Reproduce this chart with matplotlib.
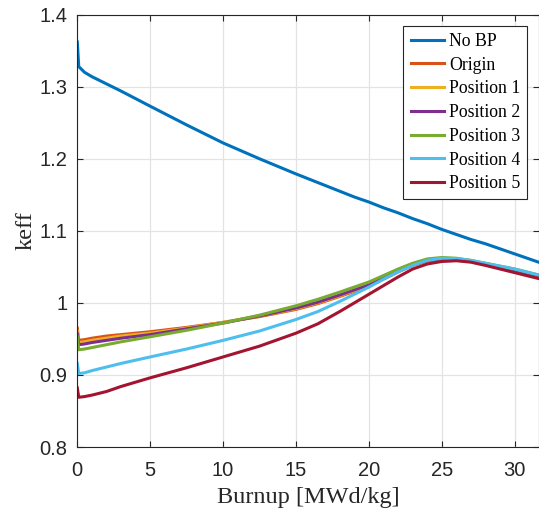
import numpy as np
import matplotlib
matplotlib.use("Agg")
import matplotlib.pyplot as plt
from matplotlib.ticker import FuncFormatter

# burnup points (MWd/kg)
burnup = [0, 0.1, 0.5, 1, 2, 3, 5, 7.5, 10, 12.5, 15, 16.5, 18, 19, 20, 21,
          22, 23, 24, 25, 26, 27, 28, 30, 32]

no_bp = [1.362, 1.328, 1.320, 1.314, 1.304, 1.294, 1.273, 1.247, 1.222, 1.200,
         1.179, 1.167, 1.155, 1.147, 1.140, 1.132, 1.125, 1.117, 1.110, 1.102,
         1.095, 1.088, 1.082, 1.068, 1.054]
origin = [0.965, 0.948, 0.949, 0.951, 0.954, 0.956, 0.960, 0.966, 0.973, 0.981,
          0.991, 0.999, 1.009, 1.016, 1.023, 1.033, 1.043, 1.052, 1.058, 1.060,
          1.060, 1.058, 1.054, 1.045, 1.035]
pos1 = [0.961, 0.945, 0.946, 0.948, 0.951, 0.954, 0.958, 0.965, 0.973, 0.982,
        0.992, 1.000, 1.010, 1.017, 1.024, 1.034, 1.044, 1.053, 1.059, 1.061,
        1.061, 1.058, 1.054, 1.046, 1.036]
pos2 = [0.957, 0.942, 0.943, 0.945, 0.948, 0.951, 0.956, 0.964, 0.972, 0.982,
        0.993, 1.001, 1.011, 1.018, 1.025, 1.035, 1.045, 1.053, 1.059, 1.061,
        1.061, 1.058, 1.054, 1.046, 1.036]
pos3 = [0.953, 0.935, 0.936, 0.938, 0.942, 0.946, 0.953, 0.962, 0.972, 0.983,
        0.996, 1.005, 1.015, 1.022, 1.029, 1.038, 1.047, 1.055, 1.061, 1.063,
        1.062, 1.059, 1.055, 1.047, 1.037]
pos4 = [0.916, 0.902, 0.903, 0.906, 0.911, 0.916, 0.925, 0.936, 0.948, 0.961,
        0.977, 0.988, 1.002, 1.012, 1.022, 1.033, 1.043, 1.052, 1.059, 1.062,
        1.0615, 1.059, 1.055, 1.047, 1.037]
pos5 = [0.882, 0.869, 0.870, 0.872, 0.877, 0.884, 0.896, 0.910, 0.925, 0.940,
        0.958, 0.971, 0.988, 1.000, 1.012, 1.024, 1.036, 1.047, 1.054, 1.0575,
        1.0585, 1.0565, 1.052, 1.042, 1.032]

series = [("No BP", no_bp, "#0072BD"),
          ("Origin", origin, "#D95319"),
          ("Position 1", pos1, "#EDB120"),
          ("Position 2", pos2, "#7E2F8E"),
          ("Position 3", pos3, "#77AC30"),
          ("Position 4", pos4, "#4DBEEE"),
          ("Position 5", pos5, "#A2142F")]

fig = plt.figure(figsize=(5.39, 5.16), dpi=100)
ax = fig.add_axes([77.3 / 539, 69 / 516, 462.2 / 539, 432.3 / 516])

for name, vals, col in series:
    ax.plot(burnup, vals, color=col, lw=2.2, label=name)

ax.set_xlim(0, 31.7)
ax.set_ylim(0.8, 1.4)
ax.set_xticks([0, 5, 10, 15, 20, 25, 30])
ax.set_yticks([0.8, 0.9, 1.0, 1.1, 1.2, 1.3, 1.4])
ax.yaxis.set_major_formatter(FuncFormatter(lambda v, p: "%g" % round(v, 2)))

ax.grid(True, color="#e3e3e3", lw=0.9)
ax.set_axisbelow(True)
dark = "#262626"
for s in ax.spines.values():
    s.set_color(dark)
    s.set_linewidth(0.8)
ax.tick_params(direction="in", length=4, width=0.8, color=dark,
               top=True, right=True, labelsize=14.5, labelcolor=dark)
ax.tick_params(axis="x", pad=10)
ax.tick_params(axis="y", pad=7)
for lab in ax.get_xticklabels() + ax.get_yticklabels():
    lab.set_family("Liberation Sans")

ax.set_xlabel("Burnup [MWd/kg]", family="Liberation Serif", fontsize=17.5,
              color=dark, labelpad=5)
ax.set_ylabel("keff", family="Liberation Serif", fontsize=17.5, color=dark,
              labelpad=2)

leg = ax.legend(loc="upper right", bbox_to_anchor=(527.3 / 539, 490.3 / 516),
                bbox_transform=fig.transFigure, borderaxespad=0,
                prop={"family": "Liberation Serif", "size": 12.8},
                handlelength=1.9, handletextpad=0.25, labelspacing=0.38,
                borderpad=0.4, fancybox=False, framealpha=1)
leg.get_frame().set_edgecolor(dark)
leg.get_frame().set_linewidth(0.8)

fig.savefig("out.png", dpi=100)
